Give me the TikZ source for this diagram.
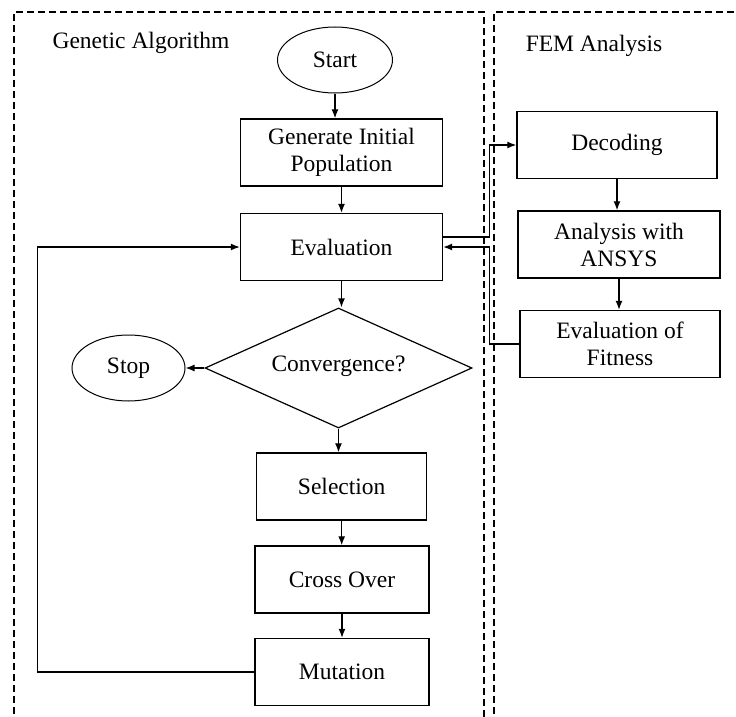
\documentclass[tikz,border=0pt]{standalone}
\usepackage{fontspec}
\setmainfont{Liberation Serif}
\usetikzlibrary{shapes.geometric,arrows.meta}

\begin{document}
\begin{tikzpicture}[x=1pt,y=-1pt,
    font=\fontsize{23.5}{27}\selectfont,
    box/.style={draw,line width=1.4pt,minimum width=#1,minimum height=67pt,align=center,inner sep=2pt},
    oval/.style={draw,ellipse,line width=1pt,minimum width=115pt,minimum height=66pt,inner sep=0pt},
    flow/.style={line width=1.3pt,-{Latex[length=9pt,width=7pt]}},
    region/.style={line width=1.2pt,dash pattern=on 7pt off 4pt}]
  \useasboundingbox (0,0) rectangle (736,717);

  % dashed regions, open at the bottom
  \draw[region] (14,725) -- (14,12) -- (484,12) -- (484,725);
  \draw[region] (494,725) -- (494,12) -- (745,12);
  \node (galabel) at (141,43) {Genetic Algorithm};
  \node (femlabel) at (594,46) {FEM Analysis};

  % GA column
  \node[oval] (start) at (335,60) {Start};
  \node[box=202pt] (gen) at (341.5,152.5) {Generate Initial\\Population};
  \node[box=202pt] (eval) at (341.5,247) {Evaluation};
  \node[draw,diamond,aspect=2.2,line width=1.2pt,minimum width=267pt,minimum height=120pt,inner sep=0pt] (conv) at (338.5,368) {\raisebox{8pt}{Convergence?}};
  \node[oval,minimum width=113pt] (stop) at (128.5,368) {Stop};
  \node[box=170pt] (sel) at (341.7,486.5) {Selection};
  \node[box=174pt] (cross) at (342,579.5) {Cross Over};
  \node[box=174pt] (mut) at (342,672) {Mutation};

  % FEM column
  \node[box=200pt] (dec) at (617,145) {Decoding};
  \node[box=202pt] (ans) at (619,244.5) {Analysis with\\ANSYS};
  \node[box=200pt] (fit) at (620,344) {Evaluation of\\Fitness};

  % GA flow
  \draw[flow] (start) -- (start |- gen.north);
  \draw[flow] (gen) -- (eval);
  \draw[flow] (eval) -- (eval |- conv.north);
  \draw[flow] (conv.west) -- (stop.east);
  \draw[flow] (conv.south) -- (conv.south |- sel.north);
  \draw[flow] (sel) -- (sel |- cross.north);
  \draw[flow] (cross) -- (cross |- mut.north);
  \draw[flow] (mut.west) -- ++(-217,0) |- (eval.west);

  % FEM flow and the links between both sides
  \draw[flow] (dec) -- (dec |- ans.north);
  \draw[flow] (ans) -- (ans |- fit.north);
  \draw[flow] ([yshift=10pt]eval.east) -- ++(46,0) |- (dec.west);
  \draw[flow] (fit.west) -- ++(-30,0) |- (eval.east);
\end{tikzpicture}
\end{document}
